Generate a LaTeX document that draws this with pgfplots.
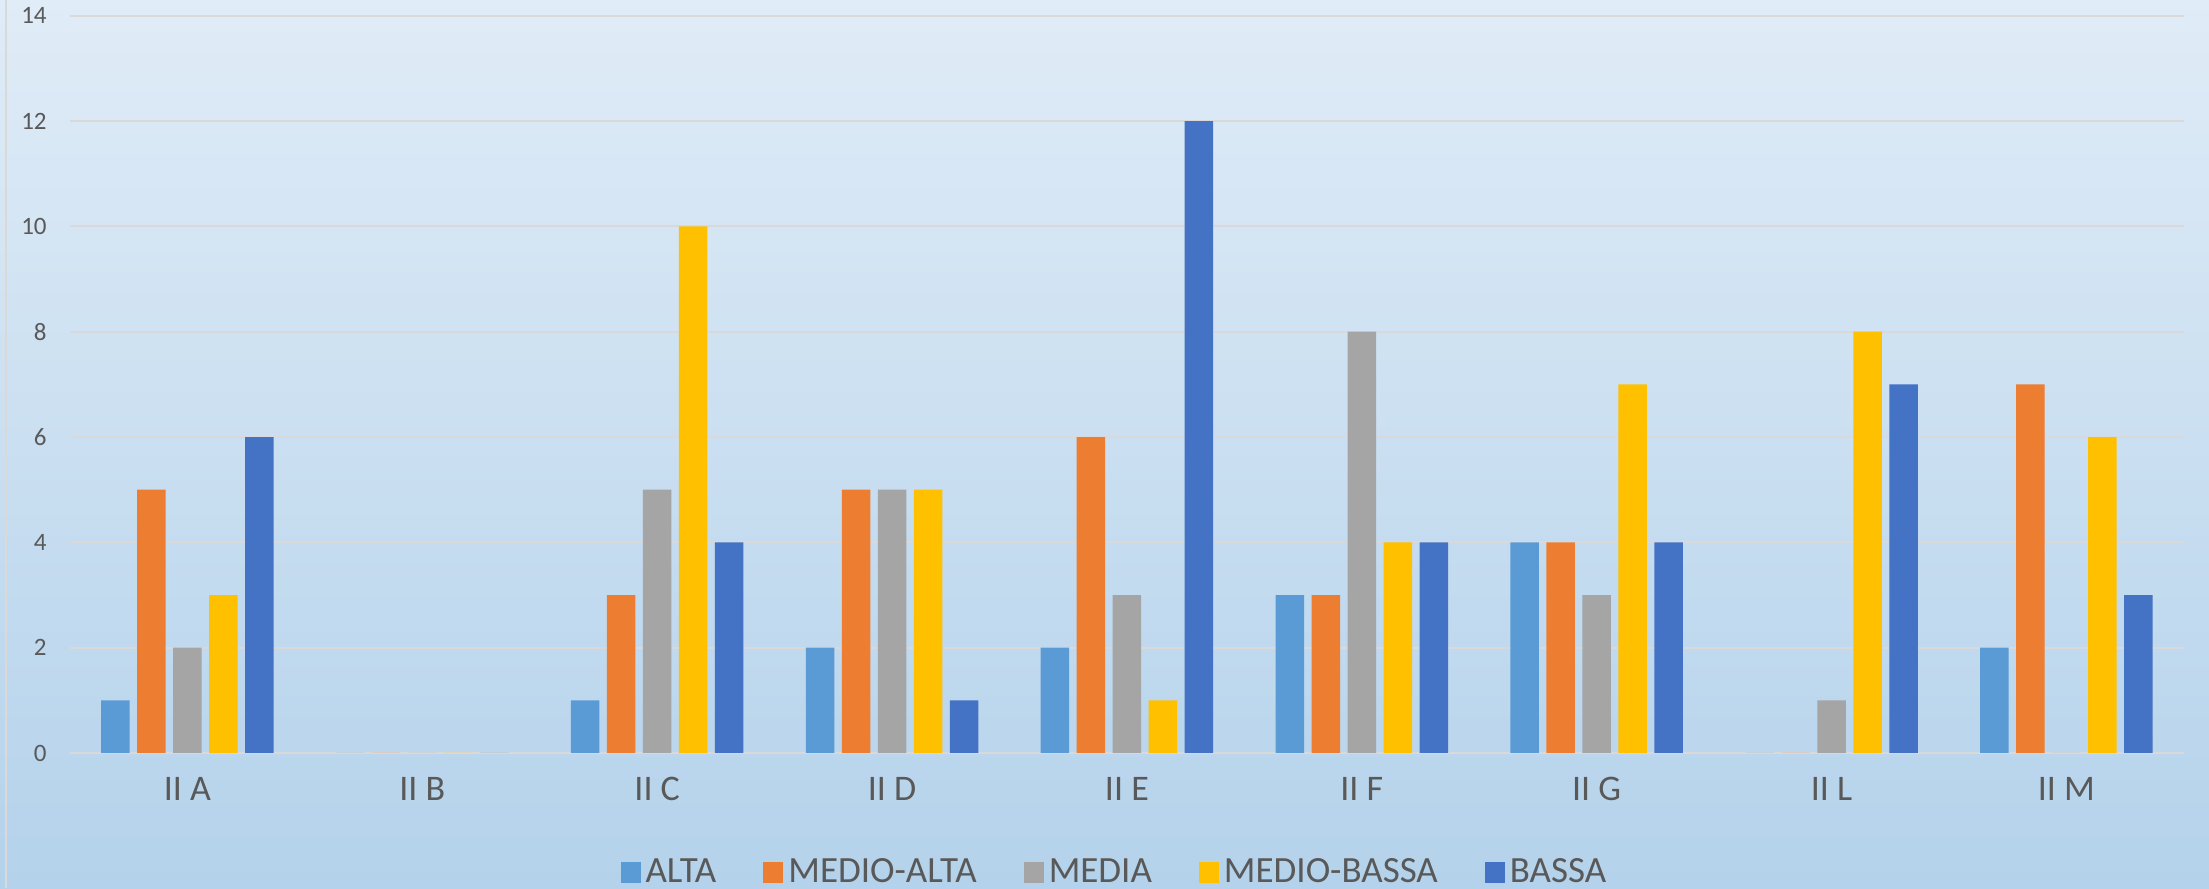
\documentclass[border=0pt]{standalone}
\usepackage{pgfplots}
\pgfplotsset{compat=1.18}
\usepackage{fontspec}
\setmainfont{Carlito}
\definecolor{cA}{HTML}{5B9BD5}
\definecolor{cB}{HTML}{ED7D31}
\definecolor{cC}{HTML}{A5A5A5}
\definecolor{cD}{HTML}{FFC000}
\definecolor{cE}{HTML}{4472C4}
\definecolor{bgtop}{HTML}{E0ECF7}
\definecolor{bgbot}{HTML}{B4D2EB}
\definecolor{gridc}{HTML}{D9D9D9}
\definecolor{txt}{HTML}{595959}
\begin{document}
\begin{tikzpicture}[x=1pt,y=1pt]
\useasboundingbox (0,0) rectangle (1104.5,444);
\shade[top color=bgtop, bottom color=bgbot] (0,0) rectangle (1104.5,444);
\draw[gridc, line width=1pt] (3,0) -- (3,444);
\begin{axis}[
  at={(35pt,67.5pt)}, anchor=south west,
  scale only axis, width=1057pt, height=368.65pt,
  xmin=-0.5, xmax=8.5, ymin=0, ymax=14,
  ytick={0,2,...,14},
  xtick={0,...,8},
  xticklabels={II A,II B,II C,II D,II E,II F,II G,II L,II M},
  axis line style={draw=none},
  major tick length=0pt,
  ymajorgrids, grid style={gridc, line width=0.9pt},
  /pgf/number format/assume math mode=true,
  yticklabel style={font=\fontsize{12.5}{14}\selectfont, text=txt, anchor=east, inner sep=0pt, xshift=-11.5pt},
  xticklabel style={font=\fontsize{18}{20}\selectfont, text=txt, anchor=north, inner sep=0pt, yshift=-12pt},
  ybar=3.75pt, bar width=14.25pt,
  legend columns=5,
  legend style={at={(0.4948,-0.1614)}, anchor=center, draw=none, fill=none,
    font=\fontsize{18.5}{20}\selectfont, text=txt,
    /tikz/every even column/.append style={column sep=21pt},
    nodes={inner sep=2.5pt}},
  legend image code/.code={\fill[#1] (0pt,-5.25pt) rectangle (10pt,5.25pt);},
]
\addplot[fill=cA, draw=none] coordinates {(0,1)(1,0)(2,1)(3,2)(4,2)(5,3)(6,4)(7,0)(8,2)};
\addplot[fill=cB, draw=none] coordinates {(0,5)(1,0)(2,3)(3,5)(4,6)(5,3)(6,4)(7,0)(8,7)};
\addplot[fill=cC, draw=none] coordinates {(0,2)(1,0)(2,5)(3,5)(4,3)(5,8)(6,3)(7,1)(8,0)};
\addplot[fill=cD, draw=none] coordinates {(0,3)(1,0)(2,10)(3,5)(4,1)(5,4)(6,7)(7,8)(8,6)};
\addplot[fill=cE, draw=none] coordinates {(0,6)(1,0)(2,4)(3,1)(4,12)(5,4)(6,4)(7,7)(8,3)};
\legend{ALTA,MEDIO-ALTA,MEDIA,MEDIO-BASSA,BASSA}
\end{axis}
\end{tikzpicture}
\end{document}
